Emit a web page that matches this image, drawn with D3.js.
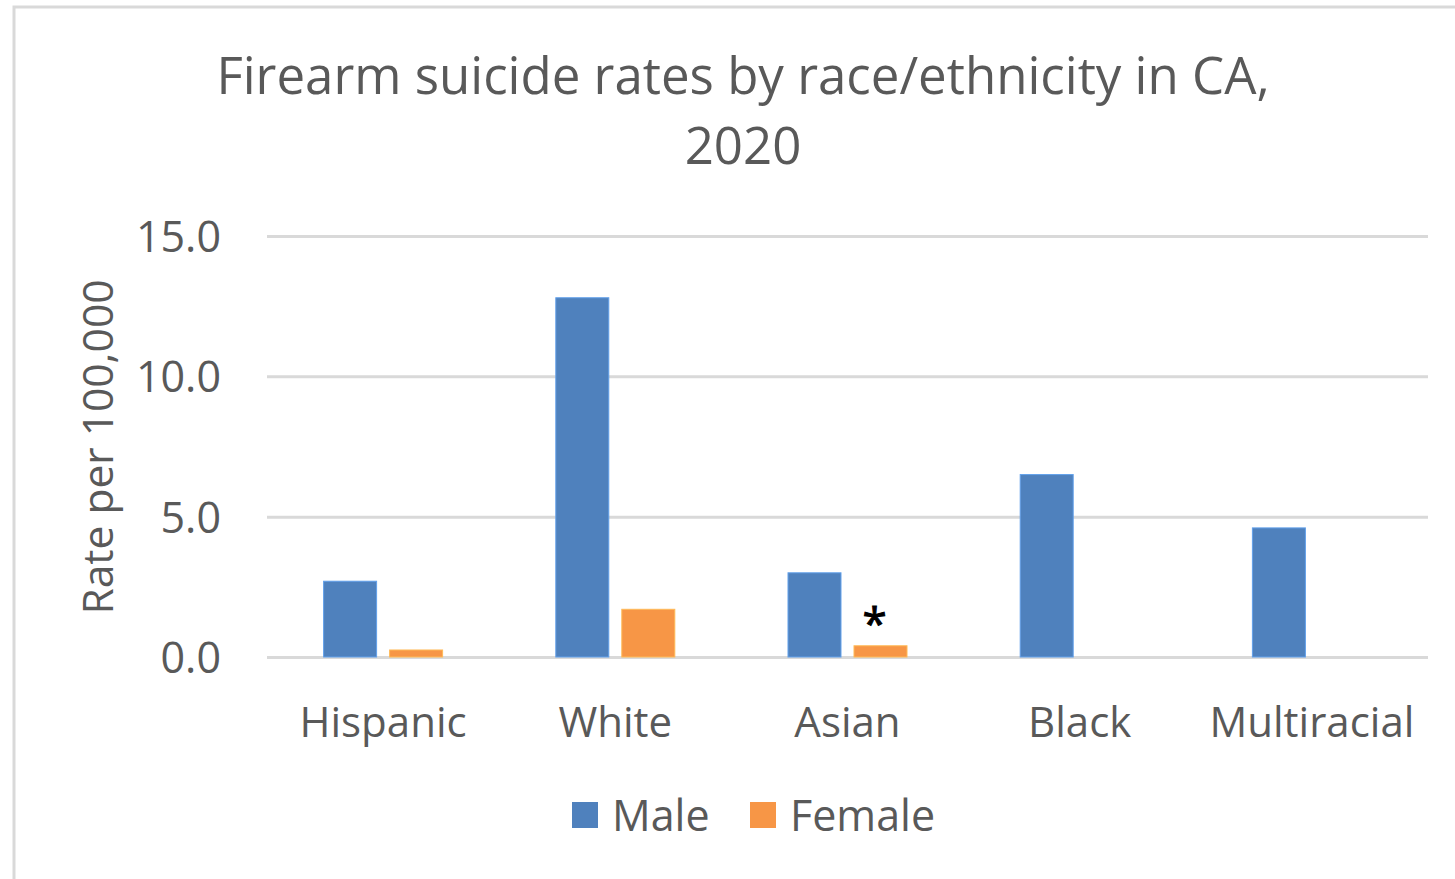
<!DOCTYPE html>
<html>
<head>
<meta charset="utf-8">
<script src="https://cdn.jsdelivr.net/npm/d3@7"></script>
<style>
  html, body { margin: 0; padding: 0; background: #fff; }
  svg { display: block; }
  text { font-family: "Open Sans", "Noto Sans", sans-serif; fill: #595959; }
</style>
</head>
<body>
<svg id="chart" width="1455" height="879"></svg>
<script>
// Firearm suicide rates per 100,000 by race/ethnicity, California 2020
const categories = ["Hispanic", "White", "Asian", "Black", "Multiracial"];
const seriesNames = ["Male", "Female"];
const maleRates = [2.7, 12.8, 3.0, 6.5, 4.6];
const femaleRates = [0.25, 1.7, 0.4, null, null];
const yTicks = [0, 5, 10, 15];
// Rates flagged as statistically unreliable
const unreliable = [{ category: "Asian", series: "Female" }];

const colors = { Male: "#4f81bd", Female: "#f79646" };

const svg = d3.select("#chart");
const W = 1455, H = 879;

// chart frame
svg.append("rect")
  .attr("x", 14).attr("y", 7)
  .attr("width", W + 20).attr("height", H + 20)
  .attr("fill", "#fff")
  .attr("stroke", "#d9d9d9").attr("stroke-width", 3);

const plot = { left: 267, right: 1428, top: 236, bottom: 657 };

const y = d3.scaleLinear().domain([0, 15]).range([plot.bottom, plot.top]);
const x0 = d3.scaleBand().domain(categories)
  .range([plot.left, plot.right])
  .paddingInner(0.4875).paddingOuter(0.4875 / 2);
const x1 = d3.scaleBand().domain(seriesNames)
  .range([0, x0.bandwidth()])
  .paddingInner(0.197).paddingOuter(0);

// gridlines
const yAxis = d3.axisLeft(y).tickValues(yTicks)
  .tickSize(-(plot.right - plot.left)).tickPadding(46)
  .tickFormat(d3.format(".1f"));
const gy = svg.append("g")
  .attr("transform", `translate(${plot.left},0)`)
  .call(yAxis);
gy.select(".domain").remove();
gy.selectAll(".tick line").attr("stroke", "#d9d9d9").attr("stroke-width", 3);
gy.selectAll(".tick text")
  .attr("fill", "#595959").attr("font-size", 43)
  .attr("font-family", "'Open Sans', sans-serif")
  .attr("dy", "0.36em");

// bars
const rows = categories.map((c, i) => ({ category: c, Male: maleRates[i], Female: femaleRates[i] }));
const groups = svg.append("g").selectAll("g")
  .data(rows).join("g")
  .attr("transform", d => `translate(${x0(d.category)},0)`);
groups.selectAll("rect")
  .data(d => seriesNames.filter(s => d[s] != null).map(s => ({ series: s, value: d[s] })))
  .join("rect")
  .attr("x", d => x1(d.series))
  .attr("width", x1.bandwidth())
  .attr("y", d => y(d.value))
  .attr("height", d => y(0) - y(d.value))
  .attr("fill", d => colors[d.series])
  .attr("stroke", d => d3.color(colors[d.series]).brighter(0.6))
  .attr("stroke-width", 1);

// asterisk on unreliable estimates
svg.append("g").selectAll("text")
  .data(unreliable).join("text")
  .attr("x", d => x0(d.category) + x1(d.series) + x1.bandwidth() / 2 - 6)
  .attr("y", d => y(femaleRates[categories.indexOf(d.category)]) - 7)
  .attr("text-anchor", "middle")
  .attr("font-size", 44)
  .style("fill", "#000")
  .style("stroke", "#000")
  .style("stroke-width", 1)
  .text("*");

// category labels
svg.append("g").selectAll("text")
  .data(categories).join("text")
  .attr("x", d => x0(d) + x0.bandwidth() / 2)
  .attr("y", 737)
  .attr("text-anchor", "middle")
  .attr("font-size", 42)
  .text(d => d);

// title
const title = svg.append("text")
  .attr("text-anchor", "middle")
  .attr("font-size", 51);
title.append("tspan").attr("x", 743).attr("y", 94)
  .text("Firearm suicide rates by race/ethnicity in CA,");
title.append("tspan").attr("x", 743).attr("y", 164)
  .text("2020");

// y axis title
svg.append("text")
  .attr("transform", "translate(113,447) rotate(-90)")
  .attr("text-anchor", "middle")
  .attr("font-size", 42.5)
  .text("Rate per 100,000");

// legend
const legend = svg.append("g");
const legendItems = [{ name: "Male", x: 572 }, { name: "Female", x: 750 }];
legend.selectAll("rect")
  .data(legendItems).join("rect")
  .attr("x", d => d.x).attr("y", 802)
  .attr("width", 26).attr("height", 26)
  .attr("fill", d => colors[d.name]);
legend.selectAll("text")
  .data(legendItems).join("text")
  .attr("x", d => d.x + 40).attr("y", 831)
  .attr("font-size", 43)
  .text(d => d.name);
</script>
</body>
</html>
